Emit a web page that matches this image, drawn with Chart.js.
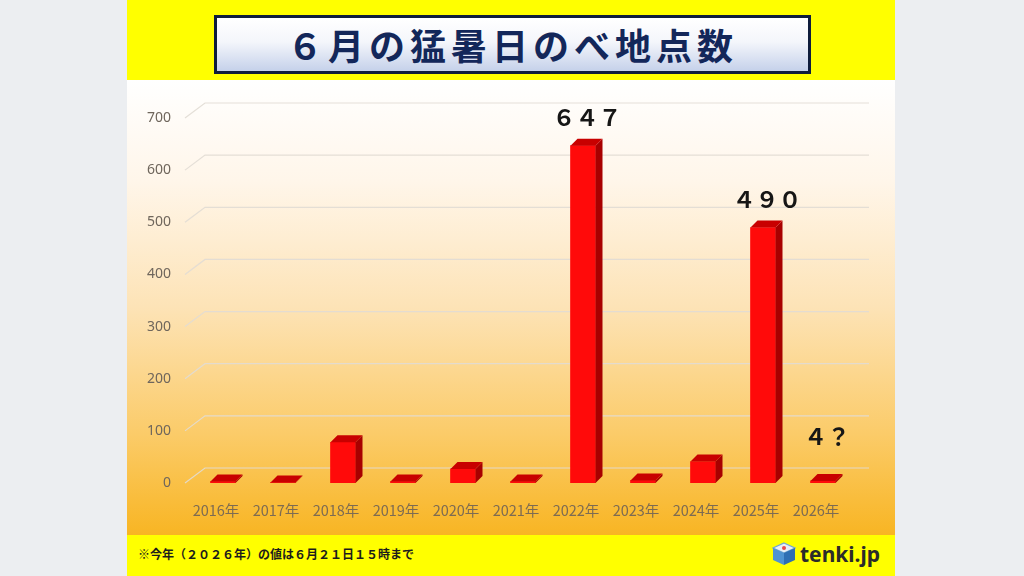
<!DOCTYPE html>
<html lang="ja">
<head>
<meta charset="utf-8">
<title>６月の猛暑日のべ地点数</title>
<script src="https://cdn.jsdelivr.net/npm/chart.js@4/dist/chart.umd.min.js"></script>
<style>
  html, body { margin: 0; padding: 0; }
  body { width: 1024px; height: 576px; background: #eceef1; position: relative; overflow: hidden;
         font-family: "Noto Sans CJK JP", "Noto Sans", sans-serif; }
  #panel { position: absolute; left: 127px; top: 0; width: 768px; height: 576px; background: #ffff00; }
  #plot { position: absolute; left: 0; top: 80px; width: 768px; height: 455px;
          background: linear-gradient(#ffffff 0%, #fff6ea 22%, #fde3b6 50%, #fbcb68 78%, #f8b523 100%); }
  #title { position: absolute; left: 87px; top: 15px; width: 591px; height: 53px;
           border: 3px solid #0f1d3c; background: linear-gradient(#ffffff 0%, #f4f6fb 45%, #c5d1ea 100%);
           color: #13275a; font-weight: 700; font-size: 36px; letter-spacing: 5px;
           text-align: center; line-height: 53px; }
  #note { position: absolute; left: 11px; top: 545px; font-size: 12px; font-weight: 700; color: #1c1c1c; }
  #logo { position: absolute; left: 645px; top: 541px; height: 26px; display: flex; align-items: center; }
  #logo span { font-family: "Noto Sans", sans-serif; font-weight: 700; font-size: 21px; color: #2b2b2b; margin-left: 4px; }
  canvas { position: absolute; left: 0; top: 80px; }
</style>
</head>
<body>
<div id="panel">
  <div id="plot"></div>
  <div id="title">６月の猛暑日のべ地点数</div>
  <canvas id="chart" width="768" height="455"></canvas>
  <div id="note">※今年（２０２６年）の値は６月２１日１５時まで</div>
  <div id="logo">
    <svg width="24" height="24" viewBox="0 0 24 24">
      <polygon points="12,1 23,6 12,11 1,6" fill="#e9eef6" stroke="#6fa6d8" stroke-width="1.2"/>
      <polygon points="1,6 12,11 12,23 1,18" fill="#4f93d2"/>
      <polygon points="23,6 12,11 12,23 23,18" fill="#2f6fb4"/>
      <circle cx="12" cy="6" r="2" fill="#e94a4a"/>
    </svg>
    <span>tenki.jp</span>
  </div>
</div>
<script>
// データ
const years = ['2016年', '2017年', '2018年', '2019年', '2020年', '2021年', '2022年', '2023年', '2024年', '2025年', '2026年'];
const counts = [3, 1, 78, 3, 27, 3, 647, 5, 41, 490, 4];
const valueLabels = ['', '', '', '', '', '', '６４７', '', '', '４９０', '４？'];
const yMax = 700;
const yStep = 100;

const DEPTH_X = 7;
const DEPTH_Y = 7;

// 奥の壁の目盛線（斜め線つき）
const backGrid = {
    id: 'backGrid',
    beforeDatasetsDraw(chart) {
        const { ctx, chartArea, scales } = chart;
        ctx.save();
        ctx.strokeStyle = 'rgba(225, 220, 212, 0.9)';
        ctx.lineWidth = 1.2;
        scales.y.ticks.forEach(t => {
            const yy = scales.y.getPixelForValue(t.value);
            ctx.beginPath();
            ctx.moveTo(chartArea.left - 8, yy);
            ctx.lineTo(chartArea.left + 12, yy - 15);
            ctx.lineTo(chartArea.right + 16, yy - 15);
            ctx.stroke();
        });
        ctx.restore();
    }
};

// 3D 風の上面・側面と数値ラベル
const bars3d = {
    id: 'bars3d',
    afterDatasetsDraw(chart) {
        const { ctx } = chart;
        const meta = chart.getDatasetMeta(0);
        ctx.save();
        meta.data.forEach((bar, i) => {
            const { x, y, base, width } = bar.getProps(['x', 'y', 'base', 'width'], true);
            const l = x - width / 2;
            const r = x + width / 2;
            // 側面
            ctx.fillStyle = '#a80000';
            ctx.beginPath();
            ctx.moveTo(r, y);
            ctx.lineTo(r + DEPTH_X, y - DEPTH_Y);
            ctx.lineTo(r + DEPTH_X, base - DEPTH_Y);
            ctx.lineTo(r, base);
            ctx.closePath();
            ctx.fill();
            // 上面
            ctx.fillStyle = '#c80000';
            ctx.beginPath();
            ctx.moveTo(l, y);
            ctx.lineTo(l + DEPTH_X, y - DEPTH_Y);
            ctx.lineTo(r + DEPTH_X, y - DEPTH_Y);
            ctx.lineTo(r, y);
            ctx.closePath();
            ctx.fill();

            const txt = valueLabels[i];
            if (txt) {
                ctx.font = 'bold 23px "Noto Sans CJK JP"';
                ctx.fillStyle = '#161616';
                ctx.textAlign = 'center';
                ctx.textBaseline = 'middle';
                ctx.fillText(txt, x + 4, Math.min(y - 28, base - 47));
            }
        });
        ctx.restore();
    }
};

function initChart() {
    const canvas = document.getElementById('chart');
    new Chart(canvas.getContext('2d'), {
        type: 'bar',
        data: {
            labels: years,
            datasets: [{
                label: '猛暑日のべ地点数',
                data: counts,
                backgroundColor: '#ff0a0a',
                borderWidth: 0,
                barThickness: 25
            }]
        },
        options: {
            responsive: false,
            animation: false,
            layout: { padding: { top: 38, right: 42, left: 0, bottom: 0 } },
            plugins: {
                legend: { display: false },
                tooltip: { enabled: false }
            },
            scales: {
                x: {
                    grid: { display: false, drawTicks: false },
                    border: { display: false },
                    ticks: {
                        color: '#7d6b52',
                        font: { family: '"Noto Sans CJK JP"', size: 14.5 },
                        padding: 19,
                        labelOffset: -7,
                        maxRotation: 0
                    },
                    afterFit(scale) { scale.height = 52; }
                },
                y: {
                    min: 0,
                    max: yMax,
                    grid: { display: false, drawTicks: false },
                    border: { display: false },
                    ticks: {
                        stepSize: yStep,
                        color: '#6f665c',
                        font: { family: '"Noto Sans"', size: 14 },
                        padding: 22
                    },
                    afterFit(scale) { scale.width = 66; }
                }
            }
        },
        plugins: [backGrid, bars3d]
    });
}

if (document.readyState === 'complete') {
    initChart();
} else {
    window.addEventListener('load', initChart);
}
</script>
</body>
</html>
